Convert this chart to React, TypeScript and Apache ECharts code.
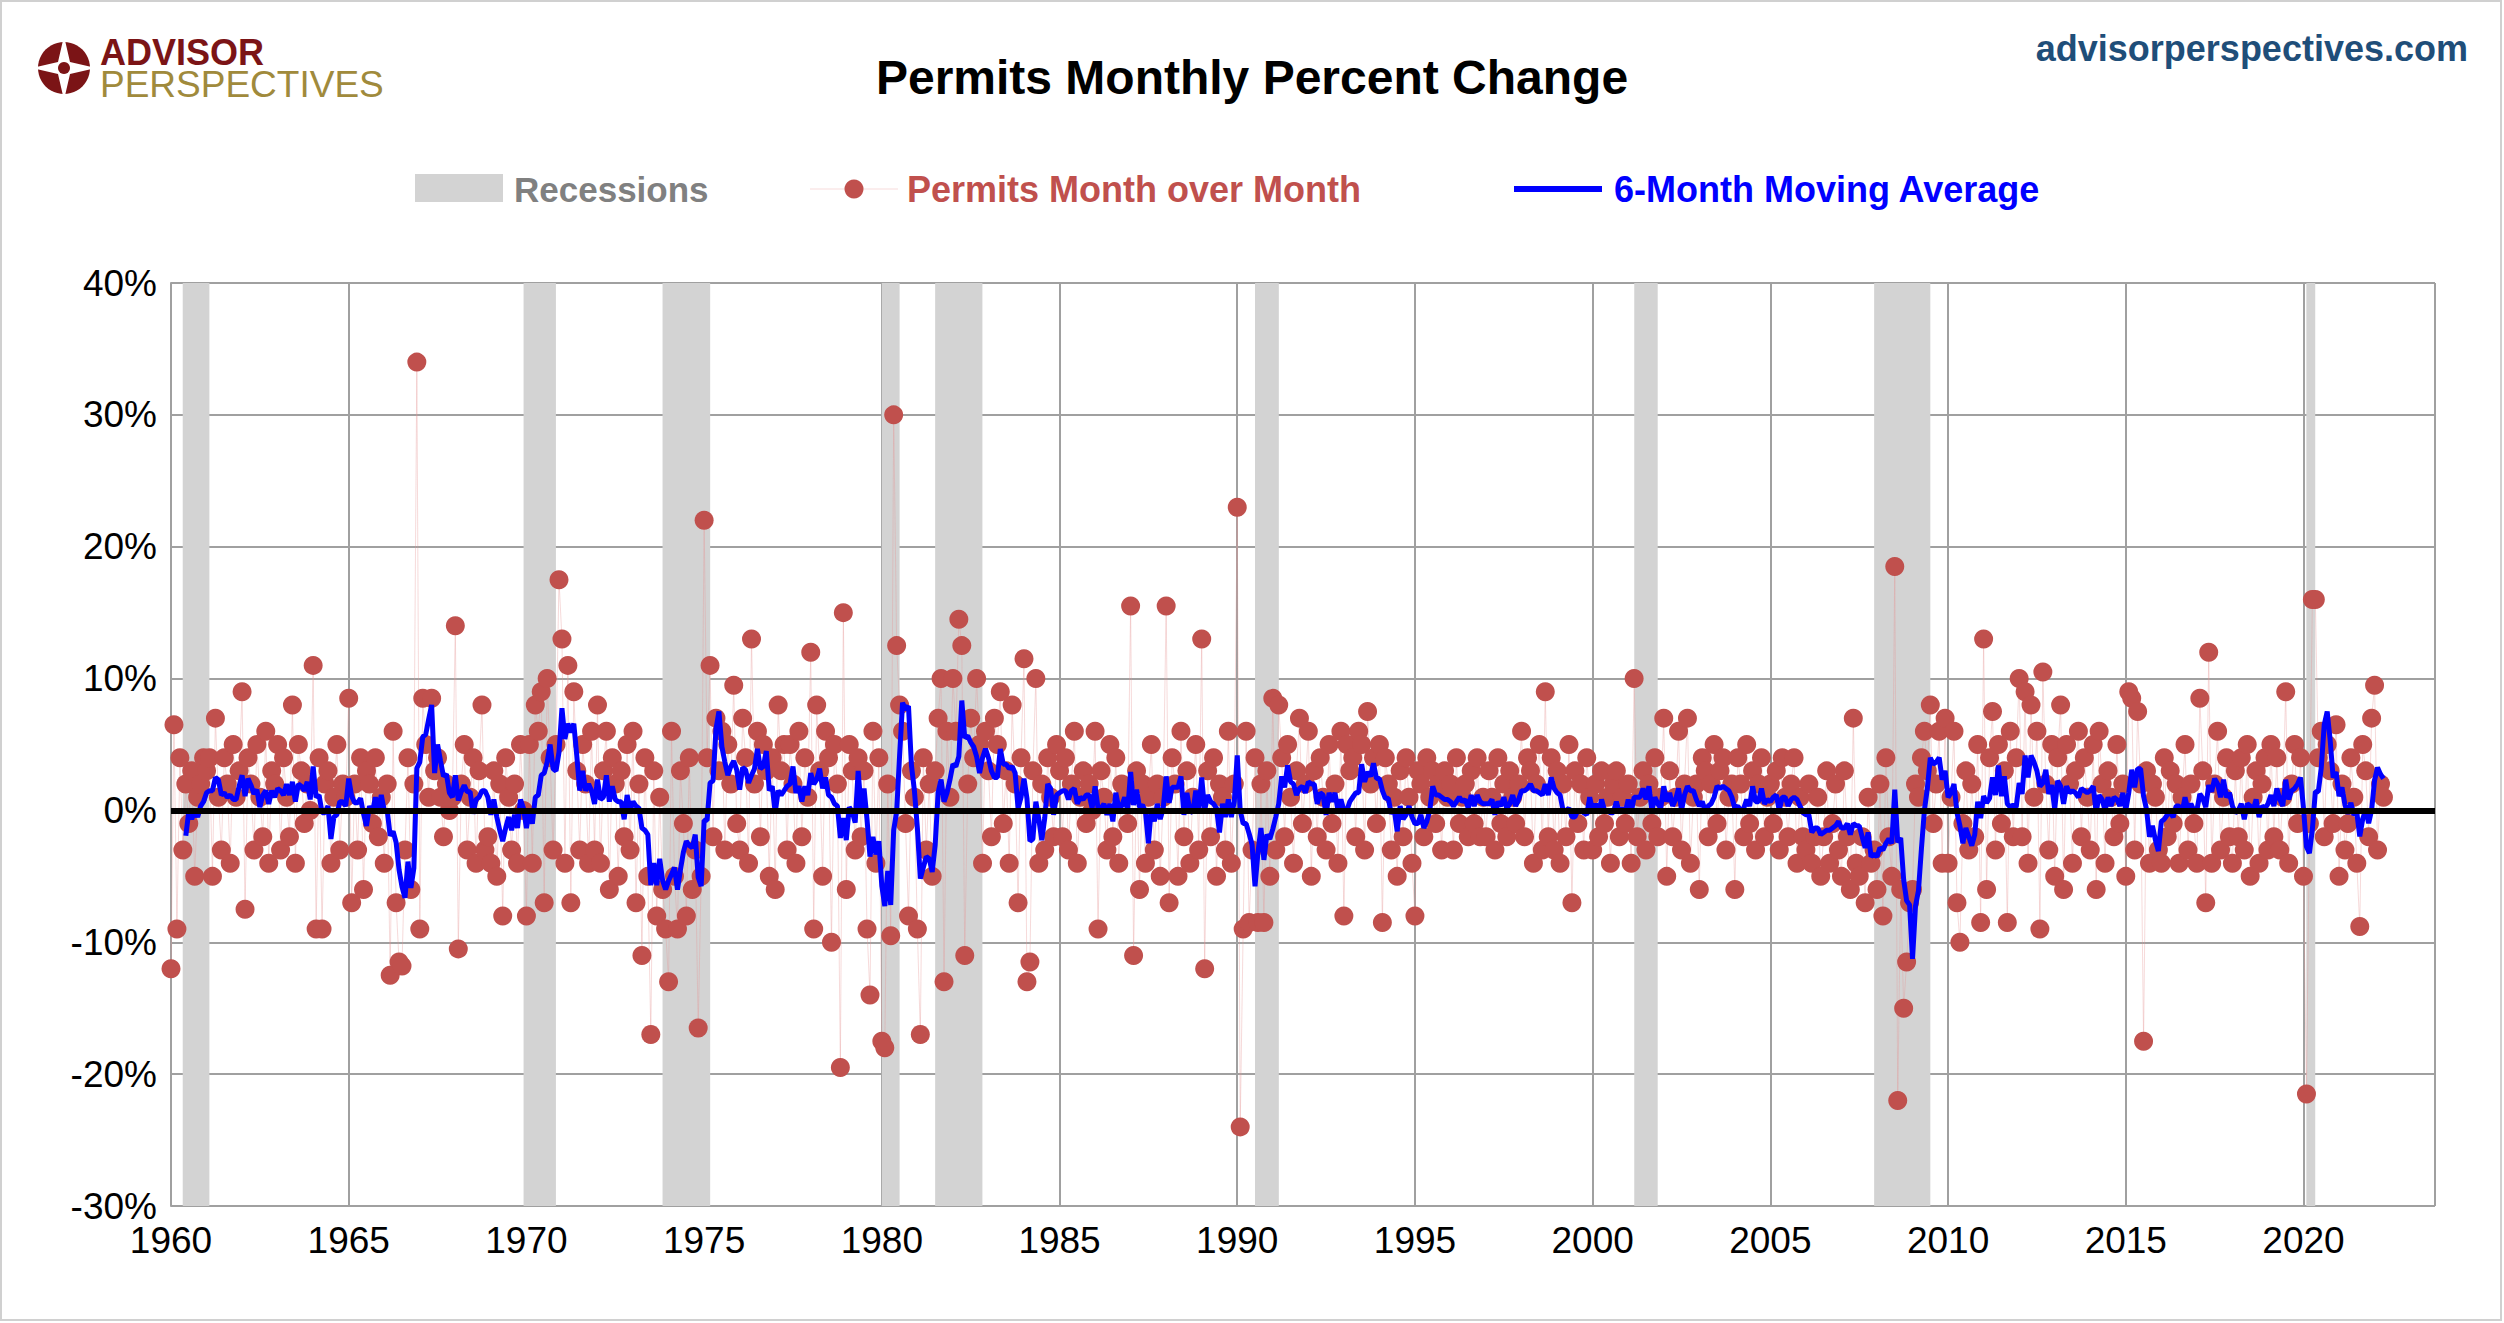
import React, { useEffect, useRef } from "react";
import * as echarts from "echarts";

const startYear = 1960;
const monthly: number[][] = [
  [-12,6.5,-9,4,-3,2,-1,3,-5,1,2,4],
  [3,4,-5,7,1,-3,4,2,-4,5,1,3],
  [9,-7.5,4,2,-3,5,1,-2,6,-4,3,2],
  [5,-3,4,1,-2,8,-4,5,3,-1,2,0],
  [11,-9,4,-9,2,3,-4,1,5,-3,2,1],
  [8.5,-7,2,-3,4,-6,3,2,-1,4,-2,1],
  [-4,2,-12.5,6,-7,-11.5,-11.8,-3,4,-6,2,34],
  [-9,8.5,5,1,8.5,3,4,1,-2,2,0,1],
  [14,-10.5,2,5,-3,1,4,-4,3,8,-3,-2],
  [-4,3,-5,2,-8,4,1,-3,2,-4,5,0],
  [-8,5,-4,8,6,9,-7,10,4,-3,5,17.5],
  [13,-4,11,-7,9,3,-3,5,2,-4,6,-3],
  [8,-4,3,6,-6,4,2,-5,3,-2,5,-3],
  [6,-7,2,-11,4,-5,-17,3,-8,1,-6,-9],
  [-13,6,-5,-9,3,-1,-8,4,-6,-3,-16.5,-5],
  [22,4,11,-2,7,3,6,-3,5,2,9.5,-1],
  [-3,7,4,-4,13,2,6,-2,5,3,-5,4],
  [-6,8,3,5,-3,5,2,-4,6,-2,4,1],
  [12,-9,8,3,-5,6,4,-10,5,2,-19.5,15],
  [-6,5,3,-3,4,-2,3,-9,-14,6,-4,4],
  [-17.5,-18,2,-9.5,30,12.5,8,6,-1,-8,3,1],
  [-9,-17,4,-3,2,-5,3,7,10,-13,6,1],
  [10,6,14.5,12.5,-11,2,7,4,10,5,-4,6],
  [3,-2,7,5,9,-1,3,-4,8,2,-7,4],
  [11.5,-13,-11.5,3,10,-4,2,-3,4,1,-2,5],
  [3,-2,4,-3,2,6,-4,1,3,-1,2,0],
  [6,-9,3,1,-3,5,-2,4,-4,2,1,-1],
  [15.5,-11,3,-6,2,-4,1,5,-3,2,-5,1],
  [15.5,-7,4,2,-5,6,-2,3,-4,1,5,-3],
  [13,-12,3,-2,4,-5,2,1,-3,6,-4,2],
  [23,-24,-9,6,-8.5,-3,4,-8.5,2,-8.5,3,-5],
  [8.5,-3,8,4,-2,5,1,-4,3,7,-1,2],
  [6,-5,3,-2,4,1,-3,5,-1,2,-4,6],
  [-8,5,3,4,-2,6,5,-3,7.5,2,4,-1],
  [5,-8.5,4,2,-3,1,-5,3,-2,4,1,-4],
  [-8,3,2,-2,4,1,3,-1,2,-3,3,1],
  [2,-3,4,-1,1,2,-2,3,-1,4,-2,1],
  [-2,3,1,-3,4,-1,2,-2,3,1,-1,2],
  [6,-2,4,3,-4,2,5,-3,9,-2,4,-3],
  [3,-4,2,-2,5,-7,3,-1,2,-3,4,1],
  [-3,2,-2,3,-1,1,-4,2,3,-2,1,-1],
  [2,-4,10,-2,1,3,-3,2,-1,4,-2,1],
  [7,-5,3,-2,1,6,-3,2,7,-4,1,2],
  [-6,4,3,-2,2,5,-1,3,4,-3,1,2],
  [-6,4,2,-2,5,-1,3,-3,2,4,-2,1],
  [2,-1,3,-3,4,1,-2,2,4,-4,1,-2],
  [-3,2,-4,-2,1,-5,-2,3,-4,-1,2,-3],
  [-5,3,-2,-6,7,-4,-5,-2,-7,1,-4,-3],
  [-6,2,-8,4,-2,-5,18.5,-22,-6,-15,-11.5,-7],
  [-6,2,1,4,6,3,8,-1,2,6,-4,7],
  [-4,1,6,-7,-10,-1,3,-3,2,-2,5,-8.5],
  [13,-6,4,7.5,-3,5,-1,3,-8.5,6,-2,4],
  [10,-2,9,-4,8,1,6,-9,10.5,2,-3,5],
  [-5,4,8,-6,5,2,-4,3,6,-2,4,1],
  [-3,5,-6,6,2,-4,3,1,-2,5,-1,2],
  [-5,9,8.5,-3,7.5,2,-17.5,3,-4,2,1,-3],
  [-4,4,-2,3,-1,2,-4,1,5,-3,2,-1],
  [-4,8.5,3,-7,12,-4,2,6,-3,1,4,-2],
  [-4,3,-2,4,-3,5,-5,1,3,-4,2,4],
  [-3,5,-2,4,-3,1,9,-4,2,5,-1,4],
  [-5,-21.5,-1,16,16,4,6,-2,5,3,-1,6.5],
  [-5,2,-3,-1,4,1,-4,-8.8,5,3,-2,7],
  [9.5,-3,2,1],
];
const recessions: [number, number][] = [
  [1960.33, 1961.08], [1969.92, 1970.83], [1973.83, 1975.17], [1980.0, 1980.5],
  [1981.5, 1982.83], [1990.5, 1991.17], [2001.17, 2001.83], [2007.92, 2009.5], [2020.08, 2020.33],
];
const yTicks = [-30, -20, -10, 0, 10, 20, 30, 40];
const xTicks = [1960, 1965, 1970, 1975, 1980, 1985, 1990, 1995, 2000, 2005, 2010, 2015, 2020];

export default function App() {
  const ref = useRef<HTMLDivElement>(null);
  useEffect(() => {
    const chart = echarts.init(ref.current!, null, { renderer: "svg" });
    const pts: number[][] = [];
    monthly.forEach((row, yi) => row.forEach((v, mi) => pts.push([startYear + yi + mi / 12, v])));
    const ma: number[][] = [];
    for (let i = 5; i < pts.length; i++) {
      let s = 0;
      for (let k = i - 5; k <= i; k++) s += pts[k][1];
      ma.push([pts[i][0], s / 6]);
    }
    const red = "#c0504d";
    const f = "'Liberation Sans', Arial";
    chart.setOption({
      animation: false,
      backgroundColor: "#fff",
      grid: { left: 171, right: 69, top: 283, bottom: 117 },
      xAxis: {
        type: "value", min: 1960, max: 2023.7, interval: 5,
        axisLine: { show: true, lineStyle: { color: "#a0a0a0", width: 2 } },
        axisTick: { show: false },
        axisLabel: { fontSize: 37, color: "#000", margin: 16, fontFamily: f,
          formatter: (v: number) => (xTicks.includes(v) ? String(v) : "") },
        splitLine: { show: true, lineStyle: { color: "#a0a0a0", width: 2 } },
      },
      yAxis: {
        type: "value", min: yTicks[0], max: yTicks[yTicks.length - 1], interval: 10,
        axisLine: { show: true, lineStyle: { color: "#a0a0a0", width: 2 } },
        axisTick: { show: false },
        axisLabel: { fontSize: 37, color: "#000", margin: 14, fontFamily: f,
          formatter: (v: number) => v + "%" },
        splitLine: { show: true, lineStyle: { color: "#a0a0a0", width: 2 } },
      },
      series: [
        {
          type: "line", data: [], z: 1, silent: true,
          markArea: { silent: true, itemStyle: { color: "#d3d3d3" },
            data: recessions.map(([a, b]) => [{ xAxis: a }, { xAxis: b }]) },
          markLine: { silent: true, symbol: "none", label: { show: false },
            lineStyle: { color: "#000", width: 6, type: "solid" }, data: [{ yAxis: 0 }] },
        },
        {
          type: "line", data: pts, z: 3, symbol: "circle", symbolSize: 19,
          itemStyle: { color: red },
          lineStyle: { color: "rgba(230,150,150,0.35)", width: 1 },
        },
        {
          type: "line", data: ma, z: 4, symbol: "none",
          lineStyle: { color: "#0000ff", width: 5 },
        },
      ],
      graphic: [
        { type: "rect", shape: { x: 1, y: 1, width: 2500, height: 1319 }, style: { fill: "none", stroke: "#d0d0d0", lineWidth: 2 } },
        { type: "text", x: 1252, y: 77, style: { text: "Permits Monthly Percent Change", font: `bold 48px ${f}`, fill: "#000", textAlign: "center", textVerticalAlign: "middle" } },
        { type: "text", x: 2468, y: 48, style: { text: "advisorperspectives.com", font: `bold 36px ${f}`, fill: "#1f4e79", textAlign: "right", textVerticalAlign: "middle" } },
        { type: "circle", shape: { cx: 64, cy: 68, r: 26 }, style: { fill: "#7b1416" } },
        { type: "polygon", shape: { points: [[64, 36], [70, 62], [96, 68], [70, 74], [64, 100], [58, 74], [32, 68], [58, 62]] }, style: { fill: "#fff" } },
        { type: "circle", shape: { cx: 64, cy: 68, r: 6 }, style: { fill: "#7b1416" } },
        { type: "text", x: 100, y: 34, style: { text: "ADVISOR", font: `bold 36px ${f}`, fill: "#7b1416", textVerticalAlign: "top" } },
        { type: "text", x: 100, y: 66, style: { text: "PERSPECTIVES", font: `37px ${f}`, fill: "#a08a3c", textVerticalAlign: "top" } },
        { type: "rect", shape: { x: 415, y: 174, width: 88, height: 28 }, style: { fill: "#d3d3d3" } },
        { type: "text", x: 514, y: 189, style: { text: "Recessions", font: `bold 35px ${f}`, fill: "#808080", textVerticalAlign: "middle" } },
        { type: "line", shape: { x1: 810, y1: 189, x2: 898, y2: 189 }, style: { stroke: "rgba(230,150,150,0.35)", lineWidth: 1 } },
        { type: "circle", shape: { cx: 854, cy: 189, r: 9.5 }, style: { fill: red } },
        { type: "text", x: 907, y: 189, style: { text: "Permits Month over Month", font: `bold 36px ${f}`, fill: red, textVerticalAlign: "middle" } },
        { type: "line", shape: { x1: 1514, y1: 189, x2: 1602, y2: 189 }, style: { stroke: "#0000ff", lineWidth: 6 } },
        { type: "text", x: 1614, y: 189, style: { text: "6-Month Moving Average", font: `bold 36px ${f}`, fill: "#0000ff", textVerticalAlign: "middle" } },
      ],
    });
    return () => chart.dispose();
  }, []);
  return <div ref={ref} style={{ width: 2504, height: 1323, position: "absolute", left: 0, top: 0 }} />;
}
